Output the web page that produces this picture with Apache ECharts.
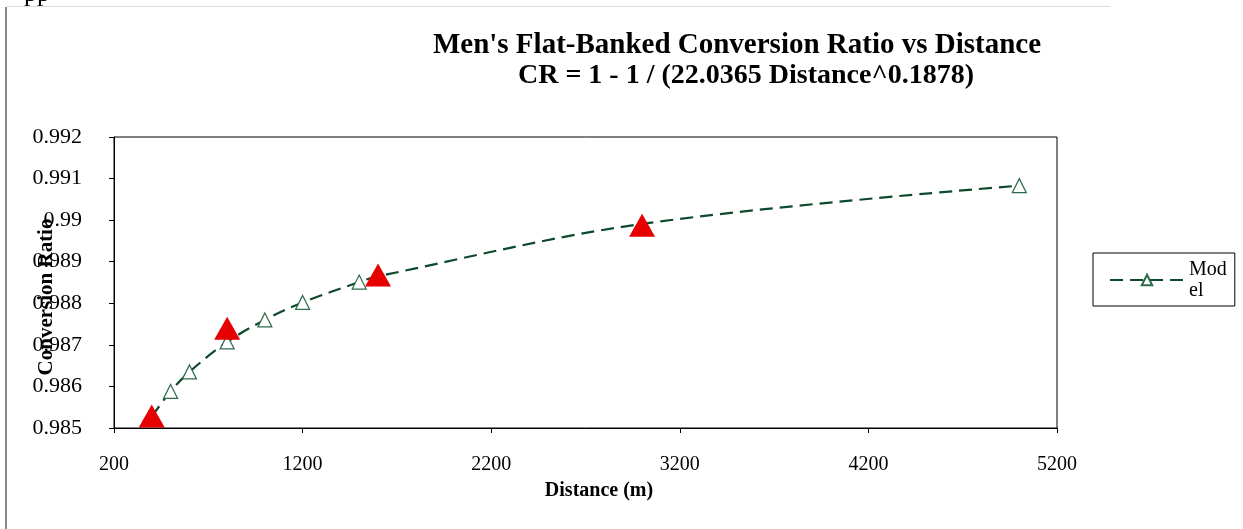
<!DOCTYPE html>
<html>
<head>
<meta charset="utf-8">
<script src="https://cdn.jsdelivr.net/npm/echarts@6/dist/echarts.min.js"></script>
<style>
html,body{margin:0;padding:0;background:#fff;}
#c{width:1243px;height:529px;}
</style>
</head>
<body>
<div id="c"></div>
<script>
var titleLines = ["Men's Flat-Banked Conversion Ratio vs Distance", "CR = 1 - 1 / (22.0365 Distance^0.1878)"];
var xAxisTitle = "Distance (m)";
var yAxisTitle = "Conversion Ratio";
var seriesName = "Model";
var modelDistances = [400, 500, 600, 800, 1000, 1200, 1500, 1600, 3000, 5000];
var modelValues = [0.98527, 0.98588, 0.98635, 0.98707, 0.98760, 0.98802, 0.98851, 0.98865, 0.98991, 0.99083];
var actualDistances = [400, 800, 1600, 3000];
var actualValues = [0.98529, 0.98740, 0.98868, 0.98988];

var serif = '"Liberation Serif","Times New Roman",serif';
var chart = echarts.init(document.getElementById('c'));
chart.setOption({
  backgroundColor: '#fff',
  animation: false,
  grid: {left: 114, right: 186, top: 137, bottom: 101, show: true, borderColor: '#000', borderWidth: 1, backgroundColor: 'transparent'},
  xAxis: {
    type: 'value', min: 200, max: 5200, interval: 1000,
    axisLine: {lineStyle: {color: '#000', width: 1}},
    axisTick: {show: true, length: 5, lineStyle: {color: '#000'}},
    splitLine: {show: false},
    axisLabel: {color: '#000', fontFamily: serif, fontSize: 20, margin: 27,
      formatter: function (v) { return String(v); }}
  },
  yAxis: {
    type: 'value', min: 0.985, max: 0.992, interval: 0.001,
    axisLine: {show: true, lineStyle: {color: '#000', width: 1}},
    axisTick: {show: true, length: 5, lineStyle: {color: '#000'}},
    splitLine: {show: false},
    axisLabel: {color: '#000', fontFamily: serif, fontSize: 22, margin: 32,
      formatter: function (v) { return String(+v.toFixed(3)); }}
  },
  legend: {
    data: [seriesName], left: 1093, top: 253, orient: 'vertical',
    borderColor: '#000', borderWidth: 1, padding: [6, 8, 5, 16],
    itemWidth: 74, itemHeight: 13, itemGap: 4,
    formatter: function () { return 'Mod\nel'; },
    textStyle: {fontFamily: serif, fontSize: 20, color: '#000', lineHeight: 21}
  },
  graphic: [
    {type: 'rect', shape: {x: 5, y: 7, width: 2, height: 522}, style: {fill: '#888'}},
    {type: 'rect', shape: {x: 7, y: 6, width: 1103, height: 1}, style: {fill: '#ddd'}},
    {type: 'text', left: 24, top: -19, style: {text: 'pp', font: '26px ' + serif, fill: '#000'}},
    {type: 'text', x: 737, y: 46, style: {text: titleLines[0], font: 'bold 29px ' + serif, fill: '#000', textAlign: 'center', textVerticalAlign: 'middle'}},
    {type: 'text', x: 746, y: 76, style: {text: titleLines[1], font: 'bold 28px ' + serif, fill: '#000', textAlign: 'center', textVerticalAlign: 'middle'}},
    {type: 'text', x: 599, y: 491, style: {text: xAxisTitle, font: 'bold 20px ' + serif, fill: '#000', textAlign: 'center', textVerticalAlign: 'middle'}},
    {type: 'text', x: 47, y: 297, rotation: Math.PI / 2, style: {text: yAxisTitle, font: 'bold 21px ' + serif, fill: '#000', textAlign: 'center', textVerticalAlign: 'middle'}}
  ],
  series: [
    {
      name: seriesName, type: 'line', smooth: 0.35,
      data: modelDistances.map(function (d, i) { return [d, modelValues[i]]; }),
      symbol: 'triangle', symbolSize: 14,
      lineStyle: {color: '#0d4a2c', width: 2.2, type: [13, 7]},
      itemStyle: {color: '#fff', borderColor: '#2d6a4a', borderWidth: 1.2},
      z: 2
    },
    {
      name: 'Actual', type: 'scatter',
      data: actualDistances.map(function (d, i) { return [d, actualValues[i]]; }),
      symbol: 'triangle', symbolSize: [26, 23],
      itemStyle: {color: '#e60000', opacity: 1},
      z: 3
    }
  ]
});
</script>
</body>
</html>
